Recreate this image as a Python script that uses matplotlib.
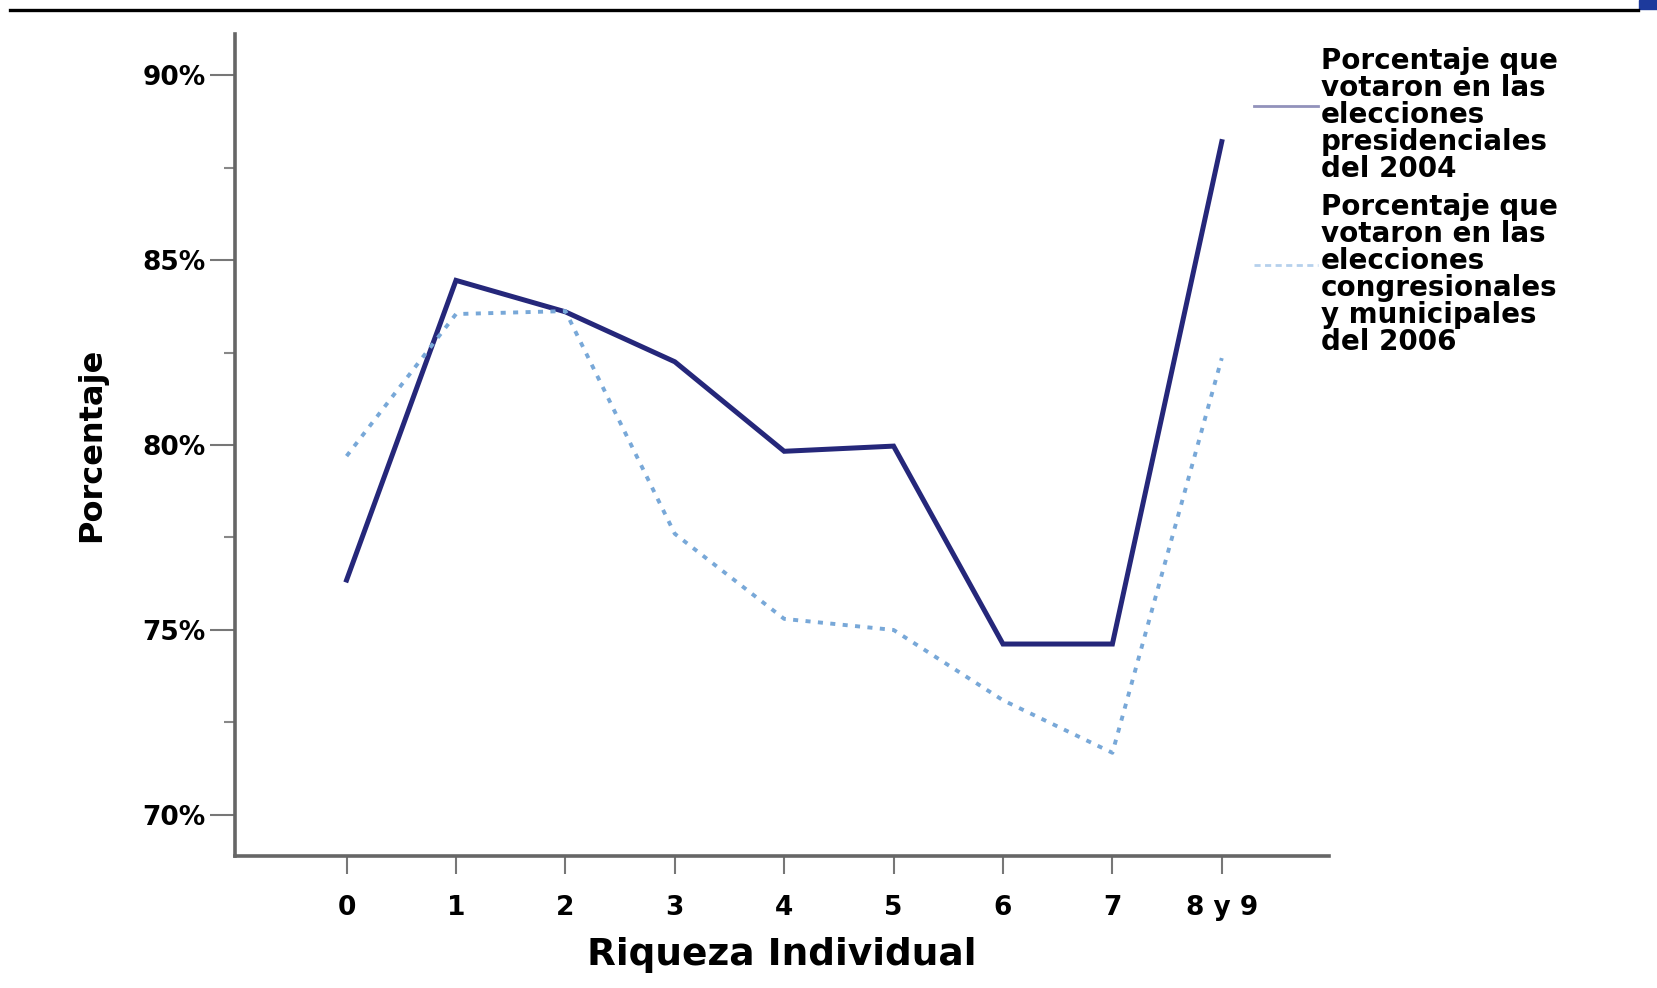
import matplotlib
matplotlib.use("Agg")
import matplotlib.pyplot as plt
from matplotlib import font_manager
from matplotlib.lines import Line2D
from matplotlib.patches import Rectangle

# values
riqueza = ["0", "1", "2", "3", "4", "5", "6", "7", "8 y 9"]
voto_2004 = [76.35, 84.45, 83.60, 82.25, 79.83, 79.97, 74.62, 74.62, 88.20]
voto_2006 = [79.70, 83.54, 83.62, 77.60, 75.30, 75.00, 73.10, 71.68, 82.35]
y_ticks = [70, 75, 80, 85, 90]
y_minor = [72.5, 77.5, 82.5, 87.5]
label_2004 = ["Porcentaje que", "votaron en las", "elecciones",
              "presidenciales", "del 2004"]
label_2006 = ["Porcentaje que", "votaron en las", "elecciones",
              "congresionales", "y municipales", "del 2006"]

NAVY = "#25277a"
LIGHT = "#78a8d8"
GRAY = "#666666"
W, H = 1658, 988


def fx(x):
    """pixel column -> figure fraction"""
    return x / W


def fy(y):
    """pixel row (from top) -> figure fraction"""
    return 1 - y / H


installed = {f.name for f in font_manager.fontManager.ttflist}
if "Liberation Sans Narrow" in installed:
    ylab_font, ylab_size = "Liberation Sans Narrow", 32
else:
    ylab_font, ylab_size = "DejaVu Sans", 23

fig = plt.figure(figsize=(W / 100, H / 100), dpi=100, facecolor="white")
ax = fig.add_axes([fx(235), fy(856), (1329 - 235) / W, (856 - 34) / H])

x = list(range(len(riqueza)))
ax.plot(x, voto_2004, color=NAVY, lw=3.6, solid_joinstyle="miter", zorder=3)
ax.plot(x, voto_2006, color=LIGHT, lw=2.8, linestyle=(0, (1.3, 1.9)),
        dash_capstyle="butt", zorder=4)

ax.set_xlim(-1.02, 8.98)
ax.set_ylim(68.89, 91.11)
ax.set_xticks(x, riqueza)
ax.set_yticks(y_ticks, [f"{v}%" for v in y_ticks])
ax.set_yticks(y_minor, minor=True)

for side in ["top", "right"]:
    ax.spines[side].set_visible(False)
for side in ["left", "bottom"]:
    ax.spines[side].set_color(GRAY)
    ax.spines[side].set_linewidth(2.6)

ax.tick_params(axis="y", which="major", length=18, width=1.5, color="#777777",
               pad=3, labelsize=19)
ax.tick_params(axis="y", which="minor", length=8, width=1.5, color="#888888")
ax.tick_params(axis="x", length=13, width=1.5, color="#777777", pad=15,
               labelsize=19)
for lab in ax.get_xticklabels() + ax.get_yticklabels():
    lab.set_fontweight("bold")

ax.set_xlabel("Riqueza Individual", fontsize=27, fontweight="bold")
ax.xaxis.set_label_coords(0.5, -0.099)
ax.set_ylabel("Porcentaje", fontsize=ylab_size, fontweight="bold",
              family=ylab_font)
ax.yaxis.set_label_coords(-0.117, 0.5)

# legend drawn by hand: multi-line labels with the sample centred on them
fig.text(fx(1321), fy(47), "\n".join(label_2004), fontsize=20,
         fontweight="bold", va="top", ha="left", linespacing=0.95)
fig.add_artist(Line2D([fx(1254), fx(1318)], [fy(106), fy(106)],
                      color="#9292bb", lw=2))
fig.text(fx(1321), fy(193), "\n".join(label_2006), fontsize=20,
         fontweight="bold", va="top", ha="left", linespacing=0.95)
fig.add_artist(Line2D([fx(1254), fx(1318)], [fy(265), fy(265)],
                      color="#b5d0ec", lw=2, linestyle=(0, (2.2, 1.6))))

# page decoration: rule across the top and the small blue block
fig.add_artist(Line2D([fx(10), fx(1638)], [fy(10), fy(10)], color="black",
                      lw=2.4))
fig.add_artist(Rectangle((fx(1639), fy(9)), 19 / W, 9 / H,
                         transform=fig.transFigure, color="#1d3a9c"))

fig.savefig("out.png", dpi=100, facecolor="white")
